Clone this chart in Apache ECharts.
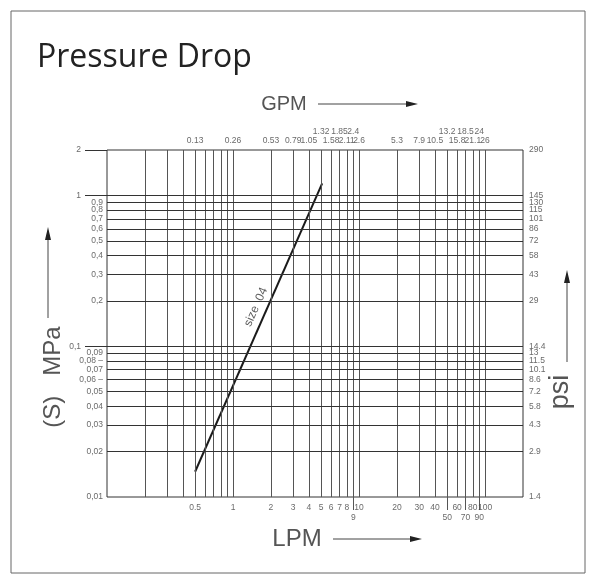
<!DOCTYPE html>
<html><head><meta charset="utf-8">
<script src="https://cdn.jsdelivr.net/npm/echarts@6/dist/echarts.min.js"></script>
<style>html,body{margin:0;padding:0;background:#fff}#c{width:597px;height:584px}</style>
</head><body><div id="c"></div>
<script>
// ---------- data ----------
const chartTitle = 'Pressure Drop';
// vertical grid lines (LPM)
const lpmGrid = [0.2,0.3,0.4,0.5,0.6,0.7,0.8,0.9,1,2,3,4,5,6,7,8,9,10,20,30,40,50,60,70,80,90,100];
// horizontal grid lines (MPa)
const mpaGrid = [1,0.9,0.8,0.7,0.6,0.5,0.4,0.3,0.2,0.1,0.09,0.08,0.07,0.06,0.05,0.04,0.03,0.02];
// bottom tick labels (LPM)
const lpmTicks = [0.5,1,2,3,4,5,6,7,8,9,10,20,30,40,50,60,70,80,90,100];
const lpmTickText = ['0.5','1','2','3','4','5','6','7','8','9','10','20','30','40','50','60','70','80','90','100'];
const lpmLowRow = [9,50,70,90];
// top tick labels (GPM) at the same positions
const gpmTickText = ['0.13','0.26','0.53','0.79','1.05','1.32','1.58','1.85','2.11','2.4','2.6','5.3','7.9','10.5','13.2','15.8','18.5','21.1','24','26'];
const gpmHighRow = ['1.32','1.85','2.4','13.2','18.5','24'];
// left tick labels (MPa)
const mpaTicks = [2,1,0.9,0.8,0.7,0.6,0.5,0.4,0.3,0.2,0.1,0.09,0.08,0.07,0.06,0.05,0.04,0.03,0.02,0.01];
const mpaTickText = ['2','1','0,9','0,8','0,7','0,6','0,5','0,4','0,3','0,2','0,1','0,09','0,08','0,07','0,06','0,05','0,04','0,03','0,02','0,01'];
// right tick labels (psi) at the same positions
const psiTickText = ['290','145','130','115','101','86','72','58','43','29','14.4','13','11.5','10.1','8.6','7.2','5.8','4.3','2.9','1.4'];
// leader lines
const mpaLeftExt = [2,1,0.1];
const mpaDash = ['0,08','0,06'];
const lpmBelowExt = [9,50,70,90];
// curve "size 04"
const size04LPM = [0.5, 5.1];
const size04MPa = [0.0147, 1.2];
const curveName = 'size  04';
const curveLabelAt = [1.52, 0.182];

// ---------- chart ----------
const X_MIN = 0.1, X_MAX = 200, Y_MIN = 0.01, Y_MAX = 2;
const G = {left:107, top:150, width:416, height:347};
const FONT = 'Liberation Sans, Arial, sans-serif';
const tickFont = {fontFamily:FONT, fontSize:8.5, color:'#444'};
const noLine = {symbol:['none','none'], silent:true, animation:false, label:{show:false}, emphasis:{disabled:true}};

const chart = echarts.init(document.getElementById('c'), null, {renderer:'canvas'});

const logX = (gi) => ({type:'log', gridIndex:gi, min:X_MIN, max:X_MAX, logBase:10, show:false, splitLine:{show:false}});
const logY = (gi) => ({type:'log', gridIndex:gi, min:Y_MIN, max:Y_MAX, logBase:10, show:false, splitLine:{show:false}});
const linAxis = (gi) => ({type:'value', gridIndex:gi, min:0, max:1, show:false, splitLine:{show:false}});

const labelSeries = (name, data) => ({
  type:'scatter', name, xAxisIndex:0, yAxisIndex:0, symbolSize:0, clip:false, silent:true,
  animation:false, z:5, data
});

const option = {
  animation:false,
  backgroundColor:'#fff',
  title:{text:chartTitle, left:32, top:37, padding:5,
    textStyle:{fontFamily:'Open Sans, sans-serif', fontWeight:'normal', fontSize:32, color:'#222'}},
  grid:[
    Object.assign({show:true, borderColor:'#333', borderWidth:1, backgroundColor:'transparent'}, G),
    {left:85, width:22, top:G.top, height:G.height},
    {left:G.left, width:G.width, top:G.top+G.height, height:13}
  ],
  xAxis:[logX(0), linAxis(1), logX(2)],
  yAxis:[logY(0), logY(1), linAxis(2)],
  graphic:[
    {type:'rect', shape:{x:11, y:11, width:574, height:562}, style:{fill:'none', stroke:'#666', lineWidth:1}, silent:true},
    {type:'text', x:284, y:104, style:{text:'GPM', fontFamily:FONT, fontSize:20, fill:'#555', align:'center', verticalAlign:'middle'}},
    {type:'line', shape:{x1:318, y1:104, x2:408, y2:104}, style:{stroke:'#444', lineWidth:1}},
    {type:'polygon', shape:{points:[[418,104],[406,101],[406,107]]}, style:{fill:'#222'}},
    {type:'text', x:297, y:539, style:{text:'LPM', fontFamily:FONT, fontSize:24, fill:'#555', align:'center', verticalAlign:'middle'}},
    {type:'line', shape:{x1:333, y1:539, x2:412, y2:539}, style:{stroke:'#444', lineWidth:1}},
    {type:'polygon', shape:{points:[[422,539],[410,536],[410,542]]}, style:{fill:'#222'}},
    {type:'text', x:53, y:377, rotation:Math.PI/2, style:{text:'(S)   MPa', fontFamily:FONT, fontSize:24, fill:'#555', align:'center', verticalAlign:'middle'}},
    {type:'line', shape:{x1:48, y1:318, x2:48, y2:238}, style:{stroke:'#444', lineWidth:1}},
    {type:'polygon', shape:{points:[[48,227],[45,240],[51,240]]}, style:{fill:'#222'}},
    {type:'text', x:561, y:392, rotation:Math.PI/2, style:{text:'psi', fontFamily:FONT, fontSize:27, fill:'#555', align:'center', verticalAlign:'middle'}},
    {type:'line', shape:{x1:567, y1:362, x2:567, y2:282}, style:{stroke:'#444', lineWidth:1}},
    {type:'polygon', shape:{points:[[567,270],[564,283],[570,283]]}, style:{fill:'#222'}}
  ],
  series:[
    // grid lines
    {type:'line', xAxisIndex:0, yAxisIndex:0, data:[], silent:true, z:1,
      markLine:Object.assign({}, noLine, {lineStyle:{type:'solid', color:'#555', width:1},
        data:lpmGrid.map(v => ({xAxis:v}))})},
    {type:'line', xAxisIndex:0, yAxisIndex:0, data:[], silent:true, z:1,
      markLine:Object.assign({}, noLine, {lineStyle:{type:'solid', color:'#333', width:1},
        data:mpaGrid.map(v => ({yAxis:v}))})},
    // left leader lines
    {type:'line', xAxisIndex:1, yAxisIndex:1, data:[], silent:true, z:1,
      markLine:Object.assign({}, noLine, {lineStyle:{type:'solid', color:'#333', width:1},
        data:mpaLeftExt.map(v => ({yAxis:v}))})},
    // bottom leader lines
    {type:'line', xAxisIndex:2, yAxisIndex:2, data:[], silent:true, z:1,
      markLine:Object.assign({}, noLine, {lineStyle:{type:'solid', color:'#555', width:1},
        data:lpmBelowExt.map(v => ({xAxis:v}))})},
    // curve
    {type:'line', name:curveName, xAxisIndex:0, yAxisIndex:0, z:4, showSymbol:false, symbol:'none',
      lineStyle:{color:'#1a1a1a', width:2}, data:size04LPM.map((x,i) => [x, size04MPa[i]])},
    // curve label
    labelSeries('curveLabel', [{value:curveLabelAt, label:{show:true, position:'inside', rotate:66, formatter:curveName,
      fontFamily:FONT, fontSize:12, color:'#333'}}]),
    // bottom labels
    labelSeries('lpm', lpmTicks.map((v,i) => ({value:[v, Y_MIN], label:{show:true, position:'bottom',
      distance: lpmLowRow.includes(v) ? 16 : 6, formatter:lpmTickText[i], ...tickFont}}))),
    // top labels
    labelSeries('gpm', lpmTicks.map((v,i) => ({value:[v, Y_MAX], label:{show:true, position:'top',
      distance: gpmHighRow.includes(gpmTickText[i]) ? 14 : 5, formatter:gpmTickText[i], ...tickFont}}))),
    // left labels
    labelSeries('mpa', mpaTicks.map((v,i) => ({value:[X_MIN, v], label:{show:true, position:'left',
      distance: mpaLeftExt.includes(v) ? 26 : 4,
      formatter: mpaDash.includes(mpaTickText[i]) ? mpaTickText[i] + ' \u2013' : mpaTickText[i], ...tickFont}}))),
    // right labels
    labelSeries('psi', mpaTicks.map((v,i) => ({value:[X_MAX, v], label:{show:true, position:'right',
      distance: 6, formatter:psiTickText[i], ...tickFont}})))
  ]
};
chart.setOption(option);
</script></body></html>
